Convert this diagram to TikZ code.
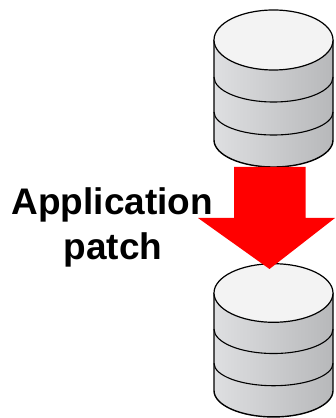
\documentclass[tikz,border=0pt]{standalone}
\usepackage{fontspec}
\setmainfont{Liberation Sans}
\definecolor{sideL}{HTML}{DEDFE1}
\definecolor{sideR}{HTML}{B7B8BA}
\definecolor{capfill}{HTML}{F3F3F3}
\tikzset{
  x=1pt,y=1pt,
  dbline/.style={draw=black,line width=1.4pt},
  dbcylinder/.pic={
    \path[left color=sideL,middle color=sideL!85!sideR,right color=sideR]
      (-59.5,0) -- (-59.5,-100) arc[start angle=180,end angle=360,x radius=59.5,y radius=27] -- (59.5,0) -- cycle;
    \draw[dbline] (-59.5,0) -- (-59.5,-100) arc[start angle=180,end angle=360,x radius=59.5,y radius=27] -- (59.5,0);
    \draw[dbline,line width=1.1pt] (-59.5,-37) arc[start angle=180,end angle=360,x radius=59.5,y radius=25];
    \draw[dbline,line width=1.1pt] (-59.5,-72) arc[start angle=180,end angle=360,x radius=59.5,y radius=23];
    \draw[dbline,line width=1.2pt,fill=capfill] (0,0) ellipse[x radius=59.5,y radius=30];
  },
  bigarrow/.style={fill=red,draw=none},
  biglabel/.style={font=\fontsize{37}{45}\selectfont\bfseries,text=black,align=center,inner sep=0pt,anchor=base}
}
\begin{document}
\begin{tikzpicture}
\useasboundingbox (0,0) rectangle (335,418);
\pic (dbtop) at (273.5,378) {dbcylinder};
\pic[yscale=.976] (dbbottom) at (273.5,125) {dbcylinder};
\fill[bigarrow] (234,251) -- (305.5,251) -- (305.5,200) -- (335,200) -- (269.5,149) -- (198,200) -- (234,200) -- cycle;
\node[biglabel] (lineone) at (112.3,203) {Application};
\node[biglabel] (linetwo) at (113,158) {patch};
\end{tikzpicture}
\end{document}
